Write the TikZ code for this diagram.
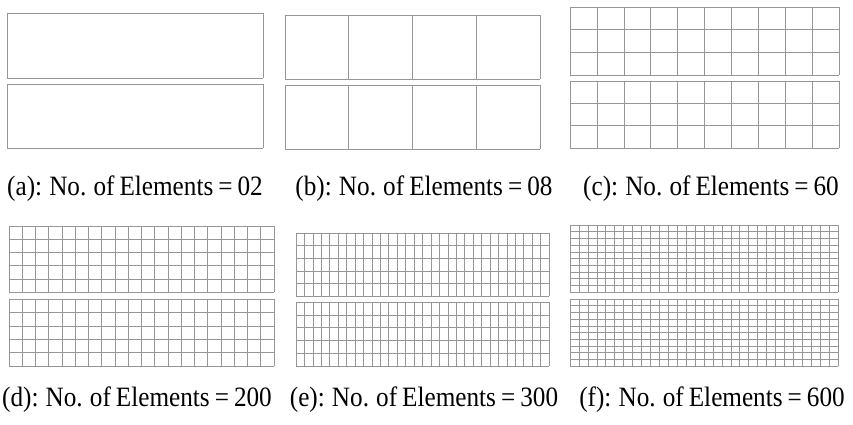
\documentclass[tikz,border=0pt]{standalone}
\usepackage{fontspec}
\setmainfont{Liberation Serif}
\newfontfamily\capfont[FakeStretch=0.9, WordSpace=0.8]{Liberation Serif}
\usepackage{tikz}
\usetikzlibrary{positioning}
\definecolor{MeshGray}{RGB}{150,150,150}

% one layer of the mesh: x0, y0, x1, y1, columns, rows
\newcommand{\meshlayer}[6]{%
  \foreach \i in {0,...,#5}
    \draw[meshline] ({#1+\i*(#3-#1)/#5},#2) -- ({#1+\i*(#3-#1)/#5},#4);
  \foreach \j in {0,...,#6}
    \draw[meshline] (#1,{#2+\j*(#4-#2)/#6}) -- (#3,{#2+\j*(#4-#2)/#6});
}

\begin{document}
\begin{tikzpicture}[
    x=1pt, y=-1pt,
    meshline/.style={draw=MeshGray, line width=0.6pt},
    caption/.style={font=\capfont\fontsize{28}{30}\selectfont, inner sep=0pt}
]
    \useasboundingbox (0,0) rectangle (853,424);

    % Row 1 - coarse meshes
    \meshlayer{7}{13}{263}{78}{1}{1}
    \meshlayer{7}{84}{263}{148}{1}{1}
    \meshlayer{285}{15}{540}{79}{4}{1}
    \meshlayer{285}{85}{540}{149}{4}{1}
    \meshlayer{570}{7}{839}{75}{10}{3}
    \meshlayer{570}{81}{839}{148}{10}{3}

    \node[caption] (capa) at (135, 189) {(a): No. of Elements = 02};
    \node[caption] (capb) at (424, 189) {(b): No. of Elements = 08};
    \node[caption] (capc) at (711, 189) {(c): No. of Elements = 60};

    % Row 2 - fine meshes
    \meshlayer{9}{226}{274}{292}{20}{5}
    \meshlayer{9}{299}{274}{366}{20}{5}
    \meshlayer{296}{233}{549}{296}{30}{5}
    \meshlayer{296}{302}{549}{366}{30}{5}
    \meshlayer{570}{225}{838}{292}{30}{10}
    \meshlayer{570}{299}{838}{366}{30}{10}

    \node[caption] (capd) at (137, 400) {(d): No. of Elements = 200};
    \node[caption] (cape) at (424, 400) {(e): No. of Elements = 300};
    \node[caption] (capf) at (712, 400) {(f): No. of Elements = 600};
\end{tikzpicture}
\end{document}
